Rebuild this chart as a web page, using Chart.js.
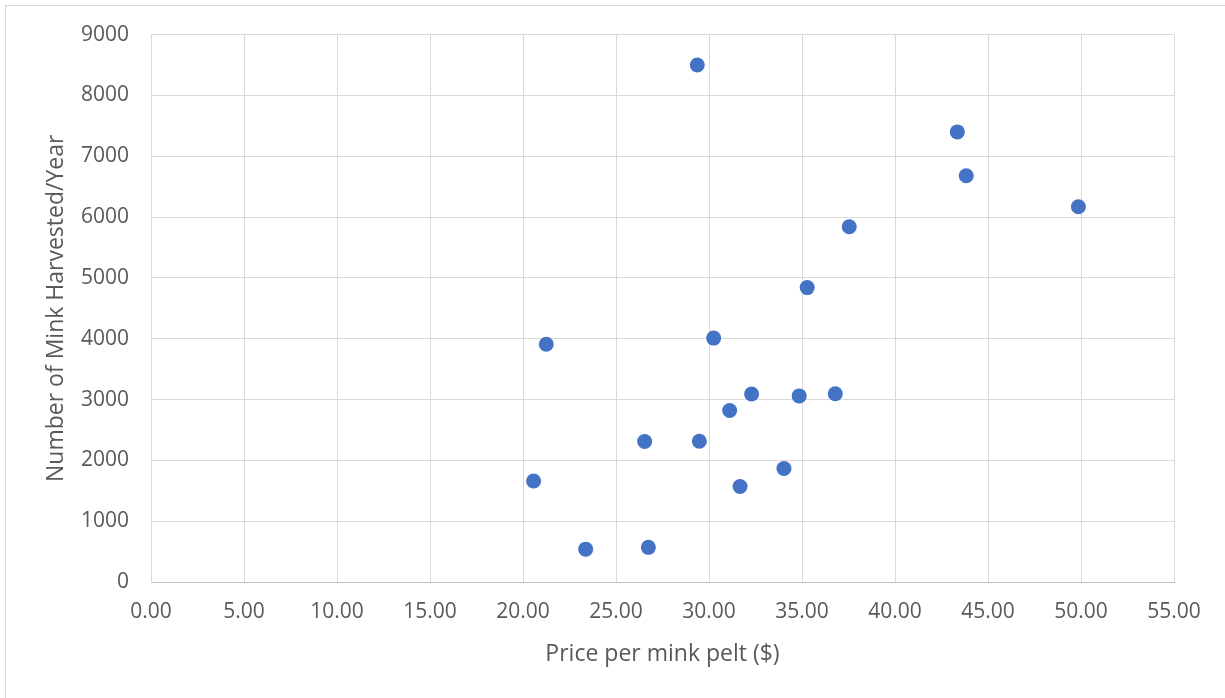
<!DOCTYPE html>
<html>
<head>
<meta charset="utf-8">
<script src="https://cdn.jsdelivr.net/npm/chart.js@4/dist/chart.umd.min.js"></script>
<style>
    html, body { margin: 0; padding: 0; background: #fff; }
    #wrap { width: 1225px; height: 698px; position: relative; }
</style>
</head>
<body>
<div id="wrap"><canvas id="minkChart" width="1225" height="698"></canvas></div>
<script>
// price per pelt ($) and mink harvested per year
const pelt_price = [29.37, 43.35, 43.83, 49.86, 37.54, 35.28, 21.25, 30.25, 32.29, 34.85,
    36.79, 31.11, 26.54, 29.48, 34.03, 20.57, 31.67, 23.37, 26.74];
const harvested = [8500, 7400, 6680, 6170, 5840, 4840, 3910, 4010, 3090, 3060,
    3095, 2820, 2310, 2315, 1865, 1660, 1570, 540, 570];

const xTitle = "Price per mink pelt ($)";
const yTitle = "Number of Mink Harvested/Year";

const fontFamily = "'Open Sans', 'Noto Sans', sans-serif";
const textColor = "#595959";

const points = pelt_price.map((p, i) => ({ x: p, y: harvested[i] }));

// light frame round the chart, only its top and left edges fall inside the shot
const framePlugin = {
    id: "frame",
    beforeDraw(chart) {
        const ctx = chart.ctx;
        ctx.save();
        ctx.strokeStyle = "#d9d9d9";
        ctx.lineWidth = 1;
        ctx.strokeRect(5.5, 5.5, 1300, 800);
        ctx.restore();
    }
};

new Chart(document.getElementById("minkChart").getContext("2d"), {
    type: "scatter",
    data: {
        datasets: [{
            data: points,
            backgroundColor: "#4472C4",
            borderColor: "#4472C4",
            pointRadius: 7.5,
            pointHoverRadius: 7.5,
            borderWidth: 0
        }]
    },
    options: {
        responsive: false,
        animation: false,
        devicePixelRatio: 1,
        layout: { padding: { top: 34, right: 51, left: 39, bottom: 0 } },
        plugins: {
            legend: { display: false },
            tooltip: { enabled: false }
        },
        scales: {
            x: {
                type: "linear",
                min: 0,
                max: 55,
                afterFit: scale => { scale.height = 116; },
                ticks: {
                    stepSize: 5,
                    color: textColor,
                    font: { family: fontFamily, size: 21 },
                    padding: 17,
                    callback: v => Number(v).toFixed(2)
                },
                grid: { color: "#d9d9d9", lineWidth: 1, drawTicks: false },
                border: { color: "#bfbfbf", width: 1 },
                title: {
                    display: true,
                    text: xTitle,
                    color: textColor,
                    font: { family: fontFamily, size: 23 },
                    padding: { top: 0, bottom: 30 }
                }
            },
            y: {
                type: "linear",
                min: 0,
                max: 9000,
                afterFit: scale => { scale.width = 112; },
                ticks: {
                    stepSize: 1000,
                    color: textColor,
                    font: { family: fontFamily, size: 21 },
                    padding: 22,
                    callback: v => String(v)
                },
                grid: { color: "#d9d9d9", lineWidth: 1, drawTicks: false },
                border: { color: "#d9d9d9", width: 1 },
                title: {
                    display: true,
                    text: yTitle,
                    color: textColor,
                    font: { family: fontFamily, size: 23 },
                    padding: { top: 4, bottom: 0 }
                }
            }
        }
    },
    plugins: [framePlugin]
});
</script>
</body>
</html>
